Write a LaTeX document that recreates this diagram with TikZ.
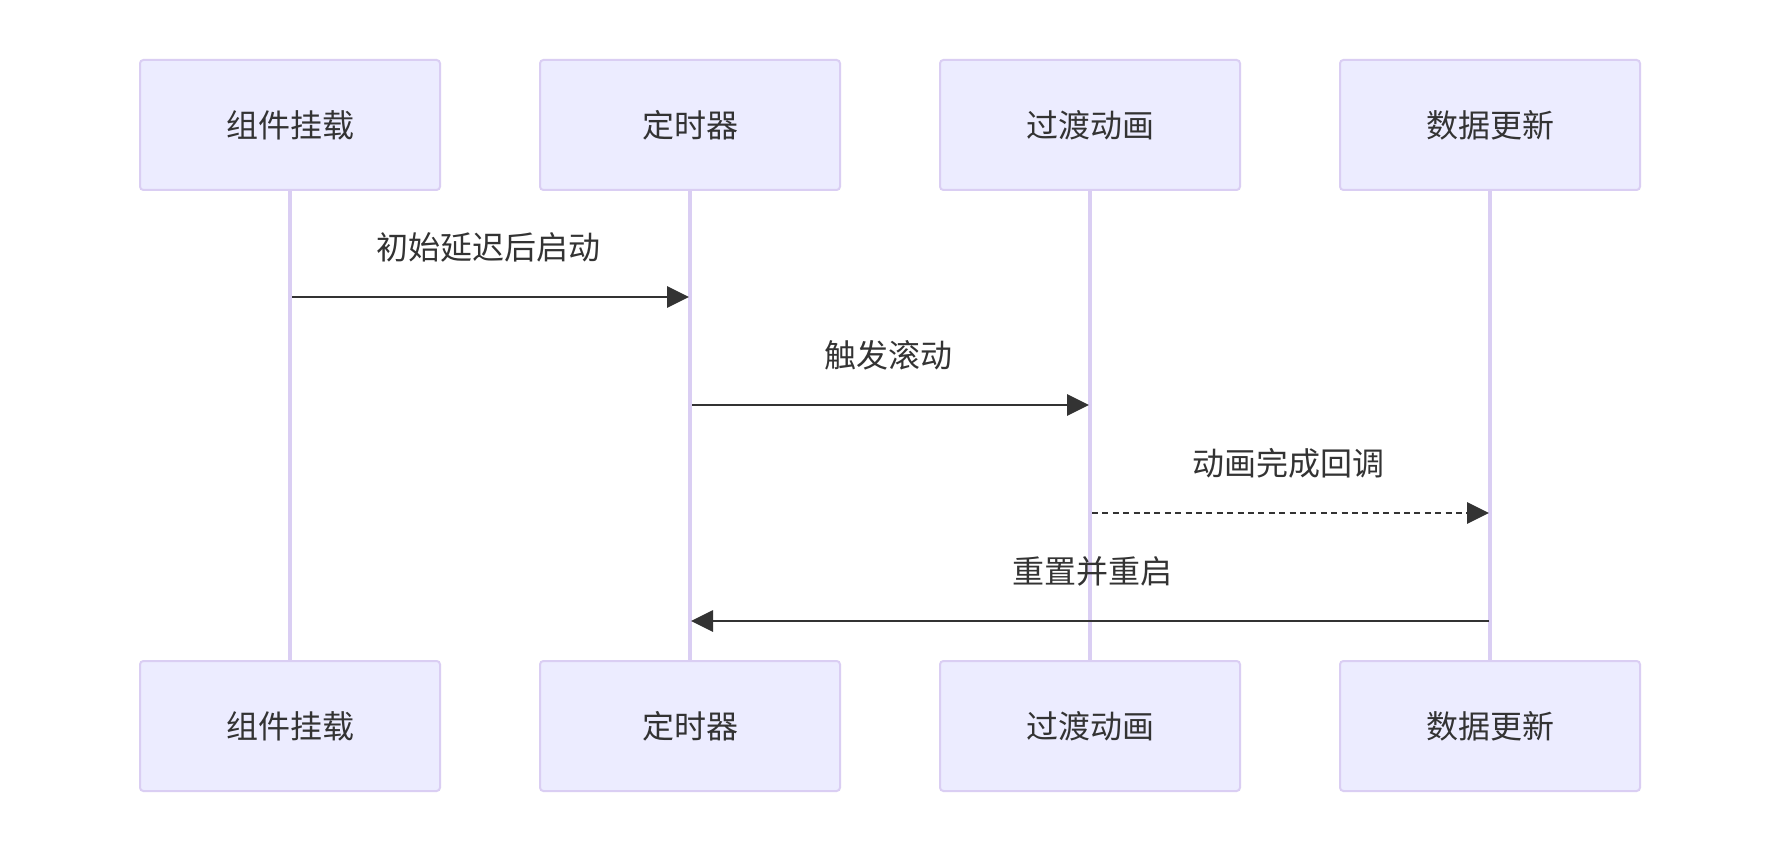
\documentclass[tikz,border=0pt]{standalone}
\usepackage{fontspec}
\setmainfont{Noto Sans CJK SC}
\usetikzlibrary{arrows.meta}
\definecolor{actfill}{HTML}{ECECFF}
\definecolor{actline}{HTML}{DACEF3}
\definecolor{ink}{HTML}{333333}
\tikzset{
  actor/.style={draw=actline, line width=1pt, fill=actfill, rounded corners=1.7pt,
    minimum width=150pt, minimum height=65pt, inner sep=0pt, text=ink,
    font=\fontsize{16pt}{19pt}\selectfont},
  lifeline/.style={draw=actline, line width=1.65pt},
  msg/.style={draw=ink, line width=1.4pt, -{Triangle[length=11pt,width=10.5pt]}},
  dotmsg/.style={msg, dash pattern=on 3pt off 2.2pt},
  msglabel/.style={text=ink, inner sep=0pt, font=\fontsize{16pt}{19pt}\selectfont}
}
\begin{document}
\begin{tikzpicture}[x=0.5pt,y=-0.5pt]
\fill[white] (0,0) rectangle (1780,854);
\useasboundingbox (0,0) rectangle (1780,854);
% top actors
\node[actor] (a1) at (290,125) {组件挂载};
\node[actor] (a2) at (690,125) {定时器};
\node[actor] (a3) at (1090,125) {过渡动画};
\node[actor] (a4) at (1490,125) {数据更新};
% bottom actors
\node[actor] (b1) at (290,726) {组件挂载};
\node[actor] (b2) at (690,726) {定时器};
\node[actor] (b3) at (1090,726) {过渡动画};
\node[actor] (b4) at (1490,726) {数据更新};
% lifelines
\foreach \i in {1,2,3,4} {
  \draw[lifeline] (a\i.south) -- (b\i.north);
}
% message endpoints
\coordinate (m1s) at (292,297);
\coordinate (m1e) at (689,297);
\coordinate (m2s) at (692,405);
\coordinate (m2e) at (1089,405);
\coordinate (m3s) at (1092,513);
\coordinate (m3e) at (1489,513);
\coordinate (m4s) at (1489,621);
\coordinate (m4e) at (691,621);
% messages
\draw[msg] (m1s) -- (m1e);
\node[msglabel] (l1) at (488,247) {初始延迟后启动};
\draw[msg] (m2s) -- (m2e);
\node[msglabel] (l2) at (888,355) {触发滚动};
\draw[dotmsg] (m3s) -- (m3e);
\node[msglabel] (l3) at (1288,463) {动画完成回调};
\draw[msg] (m4s) -- (m4e);
\node[msglabel] (l4) at (1092,571) {重置并重启};
\end{tikzpicture}
\end{document}
